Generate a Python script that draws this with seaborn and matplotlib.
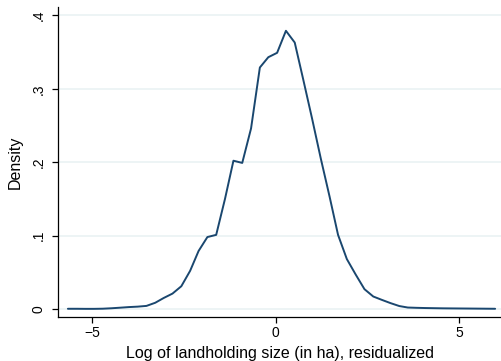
import matplotlib
matplotlib.use("Agg")
import matplotlib.pyplot as plt
import seaborn as sns
import pandas as pd

# Kernel density estimate of residualized log landholding size (50 evaluation points)
grid_x = [-5.66, -5.42, -5.19, -4.95, -4.71, -4.47, -4.23, -4.00, -3.76, -3.52,
          -3.28, -3.05, -2.81, -2.57, -2.33, -2.10, -1.86, -1.62, -1.38, -1.15,
          -0.91, -0.67, -0.43, -0.20, 0.04, 0.28, 0.52, 0.75, 0.99, 1.23,
          1.47, 1.70, 1.94, 2.18, 2.42, 2.66, 2.89, 3.13, 3.37, 3.60,
          3.84, 4.08, 4.32, 4.56, 4.79, 5.03, 5.27, 5.51, 5.74, 5.98]
density = [0.0003, 0.0003, 0.0002, 0.0002, 0.0004, 0.0010, 0.0018, 0.0026, 0.0032, 0.0042,
           0.0085, 0.015, 0.021, 0.031, 0.052, 0.079, 0.098, 0.101, 0.150, 0.202,
           0.199, 0.246, 0.329, 0.343, 0.349, 0.379, 0.363, 0.313, 0.260, 0.205,
           0.153, 0.101, 0.068, 0.047, 0.027, 0.017, 0.0125, 0.008, 0.004, 0.002,
           0.0016, 0.0013, 0.0011, 0.0009, 0.0008, 0.0007, 0.0006, 0.0005, 0.0004, 0.0003]

x_ticks = [-5, 0, 5]
x_tick_labels = ["\u22125", "0", "5"]
y_ticks = [0, 0.1, 0.2, 0.3, 0.4]
y_tick_labels = ["0", ".1", ".2", ".3", ".4"]

sns.set_theme(style="white")
plt.rcParams["font.family"] = ["Liberation Sans", "DejaVu Sans"]

df = pd.DataFrame({"x": grid_x, "density": density})

fig = plt.figure(figsize=(5.01, 3.61), dpi=100)
ax = fig.add_axes([58 / 501, 44.3 / 361, 443 / 501, (316.7 - 7.3) / 361])

sns.lineplot(data=df, x="x", y="density", ax=ax, color="#1A476F",
             linewidth=1.4, zorder=3)

ax.set_xlim(-5.93, 6.14)
ax.set_ylim(-0.0105, 0.411)

ax.set_xticks(x_ticks)
ax.set_xticklabels(x_tick_labels, fontsize=10)
ax.set_yticks(y_ticks)
ax.set_yticklabels(y_tick_labels, fontsize=10, rotation=90, va="center")

ax.yaxis.grid(True, color="#EAF2F3", linewidth=1.2)
ax.xaxis.grid(False)

for side in ("top", "right"):
    ax.spines[side].set_visible(False)
for side in ("left", "bottom"):
    ax.spines[side].set_color("black")
    ax.spines[side].set_linewidth(0.9)

ax.tick_params(axis="both", which="major", length=4, width=0.9, color="black",
               direction="out", left=True, bottom=True, labelcolor="black")
ax.tick_params(axis="y", pad=5)
ax.tick_params(axis="x", pad=3)

ax.set_xlabel("Log of landholding size (in ha), residualized", fontsize=11.5,
              color="black", labelpad=4)
ax.set_ylabel("Density", fontsize=11.5, color="black", labelpad=6)

fig.savefig("out.png", dpi=100, facecolor="white")
